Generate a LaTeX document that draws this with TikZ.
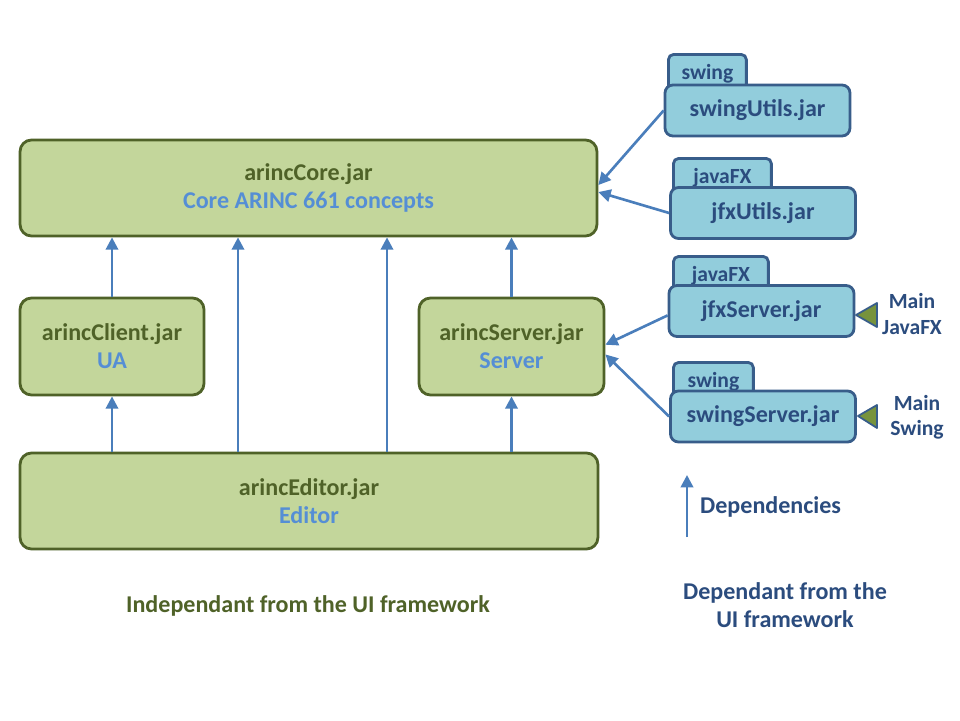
\documentclass[tikz,border=0pt]{standalone}
\usepackage{fontspec}
\setmainfont{Carlito}
\usetikzlibrary{arrows.meta,positioning}

\definecolor{jargreen}{HTML}{C3D69B}
\definecolor{jaredge}{HTML}{4F6228}
\definecolor{uiblue}{HTML}{92CDDC}
\definecolor{uiedge}{HTML}{385D8A}
\definecolor{uitext}{HTML}{2B4C7E}
\definecolor{sublabel}{HTML}{558ED5}
\definecolor{deparrow}{HTML}{4A7EBB}
\definecolor{mainolive}{HTML}{77933C}

\begin{document}
\begin{tikzpicture}[
  x=0.02cm, y=-0.02cm,
  font=\fontsize{13.7}{16}\selectfont\bfseries,
  jarbox/.style={draw=jaredge, fill=jargreen, line width=1.6pt, rounded corners=6.5pt, align=center, text=jaredge},
  uibox/.style={draw=uiedge, fill=uiblue, line width=1.6pt, rounded corners=4.5pt, minimum width=37mm, minimum height=10.2mm, text=uitext},
  tabbox/.style={draw=uiedge, fill=uiblue, line width=1.6pt, rounded corners=3pt, anchor=north west, minimum height=7.6mm, text=uitext, font=\fontsize{12.3}{14}\selectfont\bfseries},
  mainmark/.style={draw=uiedge, fill=mainolive, line width=1pt, line join=round},
  dep/.style={-{Triangle[length=7pt, width=7pt]}, deparrow, line width=1.5pt}
]
\useasboundingbox[fill=white] (0,0) rectangle (960,720);

% independant jars
\node[jarbox, minimum width=115.4mm, minimum height=19.2mm] (core) at (308.5,188) {arincCore.jar\\\textcolor{sublabel}{Core ARINC 661 concepts}};
\node[jarbox, minimum width=36.8mm, minimum height=19.4mm] (client) at (112,346.5) {arincClient.jar\\\textcolor{sublabel}{UA}};
\node[jarbox, minimum width=37mm, minimum height=19.4mm] (server) at (511.5,346.5) {arincServer.jar\\\textcolor{sublabel}{Server}};
\node[jarbox, minimum width=115.6mm, minimum height=19.2mm] (editor) at (309,501) {arincEditor.jar\\\textcolor{sublabel}{Editor}};

% UI dependant jars (tabs first, boxes on top)
\node[tabbox, minimum width=15.6mm] (swingtab1) at (667,53) {swing};
\node[uibox] (swingutils) at (757.5,110.5) {swingUtils.jar};
\node[tabbox, minimum width=19.6mm] (fxtab1) at (672,157) {javaFX};
\node[uibox] (jfxutils) at (763,213) {jfxUtils.jar};
\node[tabbox, minimum width=19mm] (fxtab2) at (672,255) {javaFX};
\node[uibox] (jfxserver) at (761.5,311) {jfxServer.jar};
\node[tabbox, minimum width=16mm] (swingtab2) at (672,361) {swing};
\node[uibox] (swingserver) at (763,416.5) {swingServer.jar};

% main markers
\draw[mainmark] (856,315) -- (877,303) -- (877,327) -- cycle;
\draw[mainmark] (858,416) -- (877,405) -- (877,428) -- cycle;
\node[text=uitext, align=center, font=\fontsize{12.3}{14.5}\selectfont\bfseries] (mainfx) at (912,314) {Main\\JavaFX};
\node[text=uitext, align=center, font=\fontsize{12.3}{14.5}\selectfont\bfseries] (mainswing) at (917,417) {Main\\Swing};

% dependencies
\coordinate (lane1) at (238,0);
\coordinate (lane2) at (387,0);
\draw[dep] (editor.north -| client) -- (client.south);
\draw[dep] (client.north) -- (core.south -| client);
\draw[dep] (editor.north -| lane1) -- (core.south -| lane1);
\draw[dep] (editor.north -| lane2) -- (core.south -| lane2);
\draw[dep] (editor.north -| server) -- (server.south);
\draw[dep] (server.north) -- (core.south -| server);
\draw[dep] (swingutils.west) -- ([yshift=1.7pt]core.east);
\draw[dep] (jfxutils.west) -- ([yshift=-2.3pt]core.east);
\draw[dep] ([yshift=-2.5pt]jfxserver.west) -- ([yshift=1pt]server.east);
\draw[dep] (swingserver.west) -- ([yshift=-4.5pt]server.east);

% legend
\coordinate (legtail) at (687,537);
\coordinate (leghead) at (687,475);
\draw[dep] (legtail) -- (leghead);
\node[text=uitext, anchor=west] (deplabel) at (694,507) {Dependencies};
\node[text=uitext, align=center] (uidep) at (785,605) {Dependant from the\\UI framework};
\node[text=jaredge] (uiindep) at (308,606) {Independant from the UI framework};
\end{tikzpicture}
\end{document}
